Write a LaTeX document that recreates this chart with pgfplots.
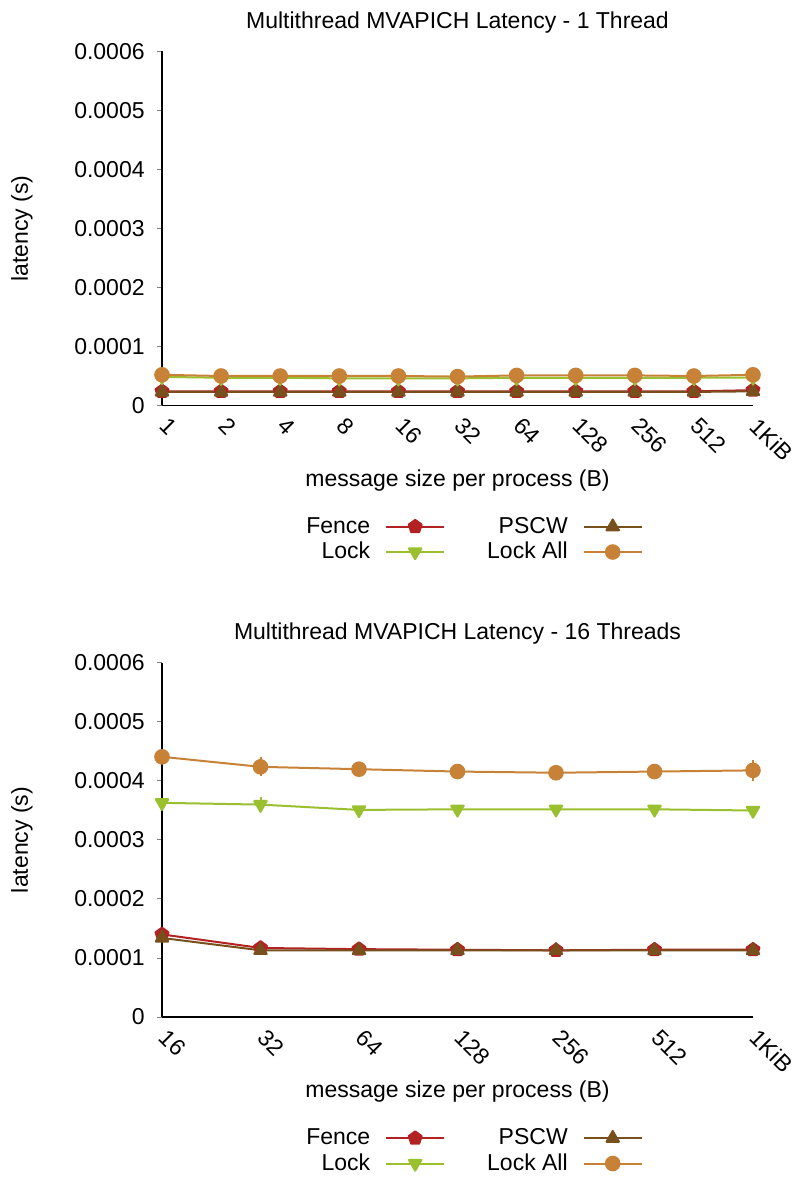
\documentclass[border=0pt]{standalone}
\usepackage{fontspec}
\setmainfont{Liberation Sans}
\usepackage{pgfplots}
\usepackage{pgfplotstable}
\pgfplotsset{compat=1.18}

\definecolor{cfence}{RGB}{178,34,34}
\definecolor{clock}{RGB}{154,192,48}
\definecolor{cpscw}{RGB}{120,80,30}
\definecolor{clockall}{RGB}{200,130,55}

% 1 thread: message sizes 1 B ... 1 KiB at positions 0..10
\pgfplotstableread{
x  fence     pscw      lock      lockall
0  0.000024  0.000023  0.0000485 0.000052
1  0.000024  0.000023  0.000047  0.000050
2  0.000024  0.000023  0.000047  0.000050
3  0.000024  0.000023  0.000046  0.000050
4  0.000024  0.000023  0.000046  0.000050
5  0.000024  0.000023  0.000046  0.000049
6  0.000024  0.000023  0.000047  0.000051
7  0.000024  0.000023  0.000047  0.000051
8  0.000024  0.000023  0.000047  0.000051
9  0.000024  0.000023  0.000047  0.000050
10 0.000026  0.000024  0.0000475 0.000052
}\onethread

% 16 threads: message sizes 16 B ... 1 KiB at positions 0..6
\pgfplotstableread{
x fence    efence   pscw     epscw    lock     elock    lockall  elockall
0 0.000140 0.000002 0.000134 0.000002 0.000363 0.000004 0.000441 0.000003
1 0.000117 0.000002 0.000113 0.000002 0.000360 0.000013 0.000424 0.000016
2 0.000115 0.000002 0.000113 0.000002 0.000351 0.000004 0.000420 0.000003
3 0.000114 0.000002 0.000113 0.000002 0.000352 0.000003 0.000416 0.000003
4 0.000113 0.000002 0.000113 0.000002 0.000352 0.000004 0.000414 0.000003
5 0.000114 0.000002 0.000113 0.000002 0.000352 0.000003 0.000416 0.000003
6 0.000114 0.000002 0.000113 0.000002 0.000350 0.000004 0.000418 0.000018
}\sixteenthreads

\pgfplotsset{
  latstyle/.style={
    scale only axis, width=295.5pt, height=177pt,
    clip=false,
    axis x line*=bottom, axis y line*=left,
    axis line style={line width=0.6pt},
    font=\fontsize{11.5}{13.8}\selectfont,
    ymin=0, ymax=0.0006,
    scaled y ticks=false,
    ytick={0,0.0001,0.0002,0.0003,0.0004,0.0005,0.0006},
    yticklabels={0,0.0001,0.0002,0.0003,0.0004,0.0005,0.0006},
    tick align=outside, major tick length=2.5pt,
    ytick style={line width=0.5pt},
    xtick style={draw=none},
    xticklabel style={rotate=-45, anchor=north west, inner sep=0pt, xshift=4.5pt, yshift=0.7pt},
    yticklabel style={anchor=east, inner sep=0pt, xshift=-6pt},
    xlabel={message size per process (B)},
    ylabel={latency (s)},
    xlabel style={at={(axis description cs:0.5,0)}, anchor=center, yshift=-37.5pt},
    ylabel style={at={(axis description cs:0,0.5)}, anchor=center, yshift=70pt},
    title style={at={(axis description cs:0.5,1)}, anchor=center, yshift=8.5pt},
    legend columns=2,
    legend plot pos=right,
    legend cell align=right,
    legend style={draw=none, fill=none,
      at={(axis description cs:0.5,0)}, anchor=center, xshift=8.5pt, yshift=-67pt,
      nodes={inner sep=0pt}, column sep=7.5pt, row sep=3pt,
      /tikz/every even column/.append style={column sep=21pt}},
    legend image code/.code={\draw[mark repeat=2,mark phase=2,##1]
      plot coordinates {(0pt,0pt) (14.5pt,0pt) (29pt,0pt)};},
    every axis plot/.append style={line width=1pt, line join=round},
  },
  sfence/.style={color=cfence, mark=pentagon*, mark size=3.4pt, mark options={solid}},
  spscw/.style={color=cpscw, mark=triangle*, mark size=3.6pt, mark options={solid}},
  slock/.style={color=clock, mark=triangle*, mark size=3.6pt, mark options={solid, rotate=180}},
  slockall/.style={color=clockall, mark=*, mark size=3.4pt, mark options={solid}},
  ebars/.style={error bars/.cd, y dir=both, y explicit, error mark=none,
    error bar style={line width=1pt}},
}

\begin{document}
\begin{tikzpicture}
\useasboundingbox (0,0) rectangle (397pt,589pt);

\begin{axis}[latstyle, at={(81pt,386.25pt)}, anchor=south west,
  title={Multithread MVAPICH Latency - 1 Thread},
  xmin=0, xmax=10, xtick={0,...,10},
  xticklabels={1,2,4,8,16,32,64,128,256,512,1KiB}]
\addplot[sfence]   table[x=x, y=fence]   {\onethread};
\addplot[spscw]    table[x=x, y=pscw]    {\onethread};
\addplot[slock]    table[x=x, y=lock]    {\onethread};
\addplot[slockall] table[x=x, y=lockall] {\onethread};
\legend{Fence, PSCW, Lock, Lock All}
\end{axis}

\begin{axis}[latstyle, at={(81pt,80.5pt)}, anchor=south west,
  title={Multithread MVAPICH Latency - 16 Threads},
  xmin=0, xmax=6, xtick={0,...,6},
  xticklabels={16,32,64,128,256,512,1KiB}]
\addplot[sfence, ebars]   table[x=x, y=fence,   y error=efence]   {\sixteenthreads};
\addplot[spscw, ebars]    table[x=x, y=pscw,    y error=epscw]    {\sixteenthreads};
\addplot[slock, ebars]    table[x=x, y=lock,    y error=elock]    {\sixteenthreads};
\addplot[slockall, ebars] table[x=x, y=lockall, y error=elockall] {\sixteenthreads};
\legend{Fence, PSCW, Lock, Lock All}
\end{axis}
\end{tikzpicture}
\end{document}
